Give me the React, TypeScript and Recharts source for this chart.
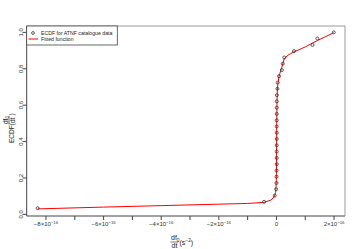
import React from 'react';
import { ComposedChart, Line, Scatter, XAxis, YAxis } from 'recharts';

// ECDF points (x in units of 1e-16 s^-2)
const ecdfX = [-8.29, -0.43, -0.06, -0.01, 0.0, 0.0, 0.005, 0.01, 0.01, 0.01, 0.01, 0.01, 0.01, 0.01, 0.01, 0.01, 0.01, 0.012, 0.015, 0.035, 0.04, 0.09, 0.19, 0.22, 0.27, 0.61, 1.25, 1.42, 1.99];
const ecdfY = [0.034, 0.069, 0.103, 0.138, 0.172, 0.207, 0.241, 0.276, 0.31, 0.345, 0.379, 0.414, 0.448, 0.483, 0.517, 0.552, 0.586, 0.621, 0.655, 0.69, 0.724, 0.759, 0.793, 0.828, 0.862, 0.897, 0.931, 0.966, 1.0];

// Fitted function samples
const fitX = [-8.29, -6, -4, -2, -1, -0.43, -0.2, -0.08, -0.03, -0.01, 0, 0.005, 0.01, 0.02, 0.035, 0.09, 0.19, 0.27, 0.4, 0.61, 1.0, 1.42, 1.99];
const fitY = [0.03, 0.04, 0.048, 0.056, 0.06, 0.066, 0.078, 0.095, 0.12, 0.16, 0.22, 0.35, 0.5, 0.62, 0.7, 0.76, 0.81, 0.855, 0.875, 0.893, 0.92, 0.955, 0.998];

const xTicks = [-8, -7, -6, -5, -4, -3, -2, -1, 0, 1, 2];
const xLabelTicks = [-8, -6, -4, -2, 0, 2];
const yTicks = [0, 0.2, 0.4, 0.6, 0.8, 1.0];
const yTickLabels = ['0.0', '0.2', '0.4', '0.6', '0.8', '1.0'];

const ecdfData = ecdfX.map((x, i) => ({ x, y: ecdfY[i] }));
const fitData = fitX.map((x, i) => ({ x, y: fitY[i] }));

const FONT = 'Liberation Sans, Arial, Helvetica, sans-serif';
const AXIS = '#444';

const XTick = (props: any) => {
  const { x, y, payload } = props;
  const v = payload.value;
  if (!xLabelTicks.includes(v)) return <g />;
  if (v === 0) {
    return (
      <text x={x} y={y} dy="0.71em" textAnchor="middle" fontSize={6} fill="#333" fontFamily={FONT}>0</text>
    );
  }
  const m = v < 0 ? '\u2212' + Math.abs(v) : String(v);
  return (
    <text x={x} y={y} textAnchor="middle" fontSize={6} fill="#333" fontFamily={FONT}>
      <tspan dy="0.71em">{m + '\u00d710'}</tspan>
      <tspan dy={-2.6} fontSize={4.3}>{'\u221216'}</tspan>
    </text>
  );
};

const YTick = (props: any) => {
  const { x, y, payload } = props;
  const idx = yTicks.findIndex((t) => Math.abs(t - payload.value) < 1e-9);
  const label = idx >= 0 ? yTickLabels[idx] : '';
  return (
    <text x={x} y={y} transform={`rotate(-90, ${x}, ${y})`} textAnchor="middle" fontSize={6} fill="#333" fontFamily={FONT}>
      {label}
    </text>
  );
};

const Circle = (props: any) => {
  const { cx, cy } = props;
  return <circle cx={cx} cy={cy} r={1.5} fill="none" stroke="#333" strokeWidth={0.8} />;
};

export default function App() {
  return (
    <div style={{ position: 'absolute', left: 0, top: 0, width: 359, height: 249, background: '#fff' }}>
      <ComposedChart width={359} height={249} margin={{ top: 26, right: 14, bottom: 0, left: 0 }}>
        <XAxis
          type="number"
          dataKey="x"
          domain={[-8.67, 2.38]}
          ticks={xTicks}
          interval={0}
          allowDataOverflow
          height={33}
          tickSize={4}
          tickMargin={2}
          stroke={AXIS}
          tickLine={{ stroke: AXIS }}
          tick={<XTick />}
        />
        <YAxis
          type="number"
          dataKey="y"
          domain={[-0.009, 1.035]}
          ticks={yTicks}
          interval={0}
          allowDataOverflow
          width={26.7}
          tickSize={4}
          tickMargin={0}
          stroke={AXIS}
          tickLine={{ stroke: AXIS }}
          tick={<YTick />}
        />
        <Line data={fitData} dataKey="y" type="linear" stroke="#ff0000" strokeWidth={1} dot={false} isAnimationActive={false} />
        <Scatter data={ecdfData} dataKey="y" shape={<Circle />} isAnimationActive={false} />
      </ComposedChart>
      <svg width={359} height={249} style={{ position: 'absolute', left: 0, top: 0, pointerEvents: 'none' }} fontFamily={FONT}>
        {/* plot frame top/right */}
        <line x1={26.7} y1={26} x2={345} y2={26} stroke="#999" strokeWidth={1} />
        <line x1={345} y1={26} x2={345} y2={216} stroke="#999" strokeWidth={1} />
        {/* legend */}
        <rect x={26.7} y={26} width={90.6} height={19} fill="#fff" stroke={AXIS} strokeWidth={0.8} />
        <circle cx={33} cy={33} r={1.4} fill="none" stroke="#333" strokeWidth={0.8} />
        <text x={41} y={34.8} fontSize={5.2} fill="#222">ECDF for ATNF catalogue data</text>
        <line x1={28.5} y1={39} x2={38} y2={39} stroke="#ff0000" strokeWidth={1} />
        <text x={41} y={40.8} fontSize={5.2} fill="#222">Fitted function</text>
        {/* x axis label */}
        <text x={171} y={240} fontSize={7} fill="#222">
          df<tspan fontSize={4.8} dy={1.5}>0</tspan>
        </text>
        <line x1={170.5} y1={242} x2={178.5} y2={242} stroke="#222" strokeWidth={0.6} />
        <text x={174.5} y={248.3} textAnchor="middle" fontSize={7} fill="#222">dt</text>
        <text x={179.5} y={245} fontSize={7} fill="#222">
          (s<tspan fontSize={4.8} dy={-3}>{'\u22122'}</tspan><tspan dy={3}>)</tspan>
        </text>
        {/* y axis label */}
        <g transform="translate(14, 123) rotate(-90)">
          <text x={-20} y={0} fontSize={6.5} fill="#222">ECDF(</text>
          <text x={-1} y={-6.5} fontSize={6.5} fill="#222">
            df<tspan fontSize={4.5} dy={1.3}>0</tspan>
          </text>
          <line x1={-1.5} y1={-5} x2={7} y2={-5} stroke="#222" strokeWidth={0.6} />
          <text x={2.8} y={0.5} textAnchor="middle" fontSize={6.5} fill="#222">dt</text>
          <text x={7.5} y={0} fontSize={6.5} fill="#222">)</text>
        </g>
      </svg>
    </div>
  );
}
